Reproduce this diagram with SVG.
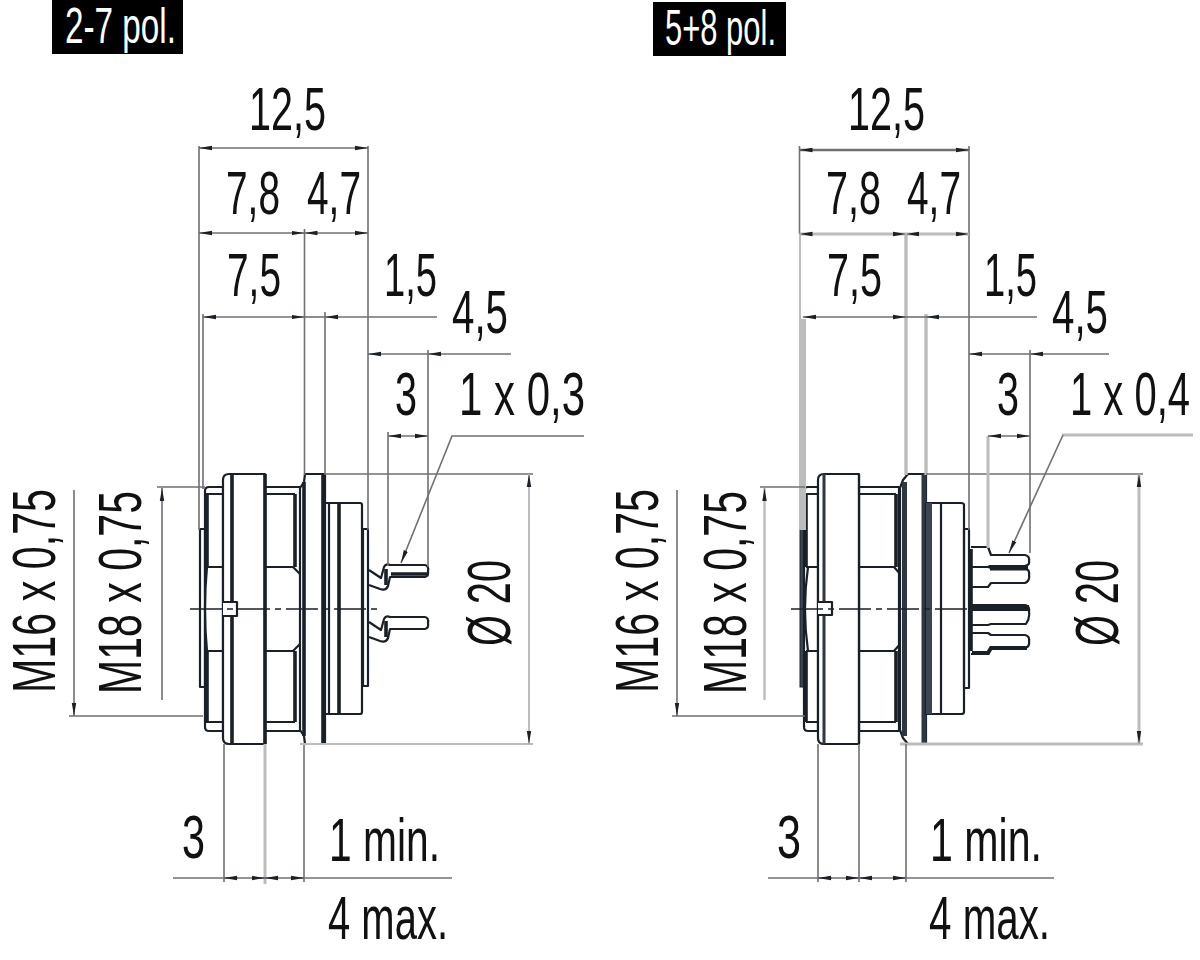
<svg xmlns="http://www.w3.org/2000/svg" width="1200" height="960" viewBox="0 0 1200 960">
<style>
text{font-family:"Liberation Sans",Arial,sans-serif;font-size:62px;fill:#111}
.t{font-size:50px;fill:#fff}
.d{stroke:#707070;stroke-width:1.6;fill:none}
.l{stroke:#bcbcbc;fill:none}
.k{stroke:#1a2028;stroke-width:2.2;fill:none;stroke-linejoin:round}
.h{stroke:#1a2028;stroke-width:3.6;fill:none}
.m{stroke:#2f3740;stroke-width:5;fill:none}
.w{fill:#fff;stroke:#1a2028;stroke-width:2.2;stroke-linejoin:round}
.c{stroke:#1a2028;stroke-width:1.6;stroke-dasharray:32 5 6 5;fill:none}
.a{marker-end:url(#ah)}
.s{marker-start:url(#ah)}
.b{marker-start:url(#ah);marker-end:url(#ah)}
</style>
<defs>
<marker id="ah" markerUnits="userSpaceOnUse" markerWidth="14" markerHeight="6" viewBox="0 0 14 6" refX="13" refY="3" orient="auto-start-reverse"><path d="M0 .8L13 3L0 5.2z" fill="#1a2028"/></marker>
</defs>

<g id="title-left"><rect x="52" y="0" width="131" height="54" fill="#000"/><text class="t" x="65" y="43" textLength="111" lengthAdjust="spacingAndGlyphs">2-7 pol.</text></g>
<g id="title-right"><rect x="653" y="2" width="133" height="54" fill="#000"/><text class="t" x="665" y="45" textLength="111" lengthAdjust="spacingAndGlyphs">5+8 pol.</text></g>

<g id="connector-left">
<rect class="k" x="200" y="529" width="5" height="158"/>
<path class="w" d="M223 487H209Q205 487 205 491V727Q205 731 209 731H223z"/>
<path class="k" d="M206 494H223M206 722H223M206 567H223M206 651H223"/>
<path class="h" d="M207 494V567M207 651V722"/>
<path class="k" d="M207 567Q203 609 207 651"/>
<rect class="w" x="265" y="487" width="36" height="244"/>
<path class="k" d="M265 494H295M265 722H295M265 567H293L301 575M265 651H293L301 643"/>
<path class="h" d="M295 494V567M295 651V722"/>
<path class="w" d="M223 480Q223 474 229 474H265V744H229Q223 744 223 738z"/>
<path class="h" d="M232 474V602M232 616V744M265 474V744"/>
<path class="w" d="M223 602H237V616H223"/>
<path class="w" d="M300 488L304 482L305 474H325V744H305L304 736L300 730z"/>
<path class="h" d="M304 482V736M323 474V744"/>
<path class="w" d="M325 503H360Q362 503 362 505V712Q362 714 360 714H325z"/>
<path class="k" d="M329 503V714"/>
<path class="h" d="M339 503V714"/>
<rect class="k" x="363" y="529" width="5" height="157"/>
<path id="pin-l1" class="k" d="M369 570L381 578L384 567Q386 563 390 565H425Q429 566 428 571Q429 576 425 577H390L388 586Q386 591 380 589L369 585"/>
<path class="h" d="M391 574H427M386 569V585"/>
<path id="pin-l2" class="k" d="M369 622L381 630L384 619Q386 615 390 617H425Q429 618 428 623Q429 628 425 629H390L388 638Q386 643 380 641L369 637"/>
<path class="h" d="M386 621V637"/>
<path class="c" d="M190 609H378"/>
</g>

<g id="connector-right">
<rect x="800" y="529" width="5" height="158" fill="#3d4650" stroke="#1a2028"/>
<path class="w" d="M818 487H808Q804 487 804 491V727Q804 731 808 731H818z"/>
<path class="k" d="M806 494H818M806 722H818M806 567H818M806 651H818"/>
<path class="h" d="M806 494V567M806 651V722"/>
<path class="k" d="M808 567Q802 609 808 651"/>
<rect class="w" x="859" y="487" width="40" height="244"/>
<path class="k" d="M859 494H896M859 722H896M859 567H894L901 575M859 651H894L901 643"/>
<path class="h" d="M896 494V567M896 651V722"/>
<path class="w" d="M818 480Q818 474 824 474H859V744H824Q818 744 818 738z"/>
<path class="m" d="M824 474V602M824 616V744" style="stroke-width:3"/>
<path class="k" d="M859 474V744"/>
<path class="w" d="M818 602H832V615H818"/>
<path class="w" d="M900 488L903 480L908 474H926V744H908L903 738L900 730z"/>
<path class="m" d="M904.500 482V736M924 474V744"/>
<path class="w" d="M926 503H961Q964 503 964 505V712Q964 714 961 714H926z"/>
<rect x="926" y="503" width="6" height="211" fill="#3d4650"/>
<path class="k" d="M941 503V714"/>
<rect class="k" x="964" y="529" width="5" height="159"/>
<path class="h" d="M971 549V651"/>
<path id="pin-r1" class="k" d="M971 547H988L991 555H1025Q1030 556 1029 561Q1030 565 1025 566H990L988 567H971"/>
<path id="pin-r2" class="k" d="M971 567H988L991 568H1025Q1030 570 1029 575Q1030 581 1025 583H991L988 587H971"/>
<path class="h" d="M990 568H1028" style="stroke-width:5"/>
<path id="pin-r3" class="k" d="M971 605H1025Q1030 606 1029 612Q1030 618 1026 624H991L988 625H971"/>
<path class="h" d="M971 608H1029" style="stroke-width:6"/>
<path id="pin-r4" class="k" d="M971 633H988L991 635H1025Q1030 636 1029 641Q1030 647 1025 648H991L988 654H971"/>
<path class="h" d="M972 653H988L991 648H1027" style="stroke-width:4"/>
<path class="c" d="M791 609H970"/>
</g>

<g id="connectors">
<g id="dims-left">
<path class="d" d="M199 146V530M368 146V530M304.500 229V475M325 312V475M203 314V489M428 350V567M388 432V565M157 487H205M69 716H203M325 474H533M224 744V882M304 744V882"/>
<path class="l" d="M300 744H533" style="stroke-width:2"/>
<path class="l" d="M265 744V884" style="stroke-width:3"/>
<path class="d b" d="M199 148H368"/>
<path class="d b" d="M199 233H304.500"/>
<path class="d b" d="M304.500 233H368"/>
<path class="d b" d="M203 317H304.500"/>
<path class="d s" d="M325 317H437"/><path class="d" d="M304 317H325"/>
<path class="d s" d="M368 354H428"/><path class="d s" d="M428 354H511"/>
<path class="d b" d="M388 436H428"/>
<path class="d s" d="M401 563L452 436H584"/>
<path class="d s" d="M162 488V700"/>
<path class="d s" d="M74 716V490"/>
<path class="l b" d="M529 474V744" style="stroke-width:2"/>
<path class="d" d="M173 878H452"/>
<path class="d s" d="M224 878H238"/><path class="d a" d="M252 878H265"/><path class="d s" d="M265 878H278"/><path class="d a" d="M291 878H304"/>
</g>
<g id="dims-right">
<path class="l" d="M800 234V530" style="stroke-width:2"/>
<path class="l" d="M803 319V530" style="stroke-width:6"/>
<path class="l" d="M906 234V475M926 314V475" style="stroke-width:3.400"/>
<path class="d" d="M799.500 146V234M969 146V530M1030 350V553M926 474H1143"/>
<path class="l" d="M988 436V548M900 744H1143" style="stroke-width:3"/>
<path class="d" d="M760 487H805M672 716H805M818 744V882M906 744V882"/>
<path class="d" d="M859 744V882"/>
<path class="l b" d="M1139 474V744" style="stroke-width:3"/>
<path class="d b" d="M799.500 150H969" style="stroke-width:2.400"/>
<path class="l b" d="M799.500 234H906" style="stroke-width:3"/>
<path class="l b" d="M906 234H969" style="stroke-width:3"/>
<path class="d b" d="M803 317H906"/>
<path class="d s" d="M926 317H1037"/><path class="d" d="M906 317H926"/>
<path class="d s" d="M969 354H1030"/><path class="d s" d="M1030 354H1109"/>
<path class="d b" d="M988 436H1030"/>
<path class="l" d="M1062 435H1193" style="stroke-width:3"/>
<path class="d s" d="M1009 553L1063 435"/>
<path class="l s" d="M764.500 488V700" style="stroke-width:2.400"/>
<path class="d s" d="M677 716V490"/>
<path class="d" d="M768 878H1054"/>
<path class="d s" d="M818 878H832"/><path class="d a" d="M846 878H859"/><path class="d s" d="M859 878H872"/><path class="d a" d="M893 878H906"/>
</g>
</g>

<g id="labels-left">
<text x="249" y="130" textLength="77" lengthAdjust="spacingAndGlyphs">12,5</text>
<text x="226" y="214" textLength="54" lengthAdjust="spacingAndGlyphs">7,8</text>
<text x="307" y="214" textLength="54" lengthAdjust="spacingAndGlyphs">4,7</text>
<text x="227" y="296" textLength="54" lengthAdjust="spacingAndGlyphs">7,5</text>
<text x="384" y="296" textLength="53" lengthAdjust="spacingAndGlyphs">1,5</text>
<text x="452" y="333" textLength="56" lengthAdjust="spacingAndGlyphs">4,5</text>
<text x="395" y="415" textLength="22" lengthAdjust="spacingAndGlyphs">3</text>
<text x="459" y="415" textLength="126" lengthAdjust="spacingAndGlyphs">1 x 0,3</text>
<text transform="translate(55 693) rotate(-90)" textLength="204" lengthAdjust="spacingAndGlyphs">M16 x 0,75</text>
<text transform="translate(141 694) rotate(-90)" textLength="203" lengthAdjust="spacingAndGlyphs">M18 x 0,75</text>
<text transform="translate(510 646) rotate(-90)" textLength="86" lengthAdjust="spacingAndGlyphs">Ø 20</text>
<text x="182" y="858" textLength="23" lengthAdjust="spacingAndGlyphs">3</text>
<text x="329" y="861" textLength="111" lengthAdjust="spacingAndGlyphs">1 min.</text>
<text x="328" y="939" textLength="120" lengthAdjust="spacingAndGlyphs">4 max.</text>
</g>
<g id="labels-right">
<text x="848" y="130" textLength="77" lengthAdjust="spacingAndGlyphs">12,5</text>
<text x="826" y="214" textLength="55" lengthAdjust="spacingAndGlyphs">7,8</text>
<text x="907" y="214" textLength="54" lengthAdjust="spacingAndGlyphs">4,7</text>
<text x="827" y="296" textLength="55" lengthAdjust="spacingAndGlyphs">7,5</text>
<text x="984" y="296" textLength="53" lengthAdjust="spacingAndGlyphs">1,5</text>
<text x="1052" y="333" textLength="56" lengthAdjust="spacingAndGlyphs">4,5</text>
<text x="997" y="415" textLength="22" lengthAdjust="spacingAndGlyphs">3</text>
<text transform="translate(1070 415) scale(.645 1)">1 x 0,4</text>
<text transform="translate(658 693) rotate(-90)" textLength="204" lengthAdjust="spacingAndGlyphs">M16 x 0,75</text>
<text transform="translate(746 694) rotate(-90)" textLength="203" lengthAdjust="spacingAndGlyphs">M18 x 0,75</text>
<text transform="translate(1118 646) rotate(-90)" textLength="86" lengthAdjust="spacingAndGlyphs">Ø 20</text>
<text x="777" y="858" textLength="24" lengthAdjust="spacingAndGlyphs">3</text>
<text x="930" y="861" textLength="112" lengthAdjust="spacingAndGlyphs">1 min.</text>
<text x="929" y="939" textLength="121" lengthAdjust="spacingAndGlyphs">4 max.</text>
</g>
</svg>
